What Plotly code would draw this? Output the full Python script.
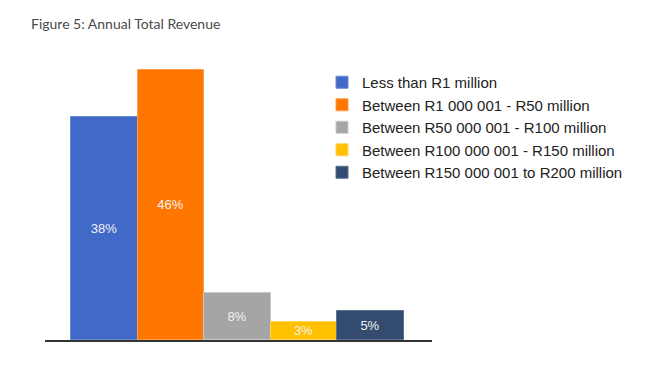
import plotly.graph_objects as go

categories = [
    "Less than R1 million",
    "Between R1 000 001 - R50 million",
    "Between R50 000 001 - R100 million",
    "Between R100 000 001 - R150 million",
    "Between R150 000 001 to R200 million",
]
values = [38, 46, 8, 3, 5]
labels = ["38%", "46%", "8%", "3%", "5%"]
colors = ["#4169C8", "#FF7700", "#A5A5A5", "#FFC000", "#324B6F"]
edges = ["#6A8AD6", "#FF9A45", "#C8C8C8", "#FFD45C", "#5A7094"]

# page has an 8px body margin, so the figure starts at (8, 8)
OFF = 8
W, H = 654 - OFF, 367 - OFF
L, R, T, B = 45 - OFF, 222, 46 - OFF, 27
pw, ph = W - L - R, H - T - B

fig = go.Figure()
for i, (name, v, lab, c, e) in enumerate(zip(categories, values, labels, colors, edges)):
    fig.add_trace(go.Bar(
        x=[i], y=[v], name=name, width=1,
        marker=dict(color=c, line=dict(color=e, width=1)),
        text=[lab], textposition="inside", insidetextanchor="middle",
        constraintext="none", cliponaxis=False,
        textfont=dict(family="Liberation Sans, Arial", size=13, color="#F2F2F2"),
        hoverinfo="skip",
    ))

def px_x(p):
    return (p - OFF - L) / pw

def px_y(p):
    return (H - B - (p - OFF)) / ph

fig.update_layout(
    width=W, height=H,
    margin=dict(l=L, r=R, t=T, b=B),
    paper_bgcolor="white", plot_bgcolor="white",
    barmode="overlay", bargap=0,
    showlegend=True,
    legend=dict(
        x=px_x(322), y=px_y(66), xanchor="left", yanchor="top",
        font=dict(family="Liberation Sans, Arial", size=15, color="#222222"),
        bgcolor="rgba(0,0,0,0)", tracegroupgap=0,
    ),
    xaxis=dict(range=[-0.89, 4.92], showline=True, linecolor="#333333", linewidth=1.5,
               showticklabels=False, ticks="", showgrid=False, zeroline=False, fixedrange=True),
    yaxis=dict(range=[0, 50], showline=False, showticklabels=False, ticks="",
               showgrid=False, zeroline=False, fixedrange=True),
    annotations=[dict(
        text="Figure 5: Annual Total Revenue", xref="paper", yref="paper",
        x=px_x(29), y=px_y(23), xanchor="left", yanchor="middle", showarrow=False,
        font=dict(family="Lato", size=14, color="#4A4A4A"),
    )],
)

fig.write_html("out.html")
